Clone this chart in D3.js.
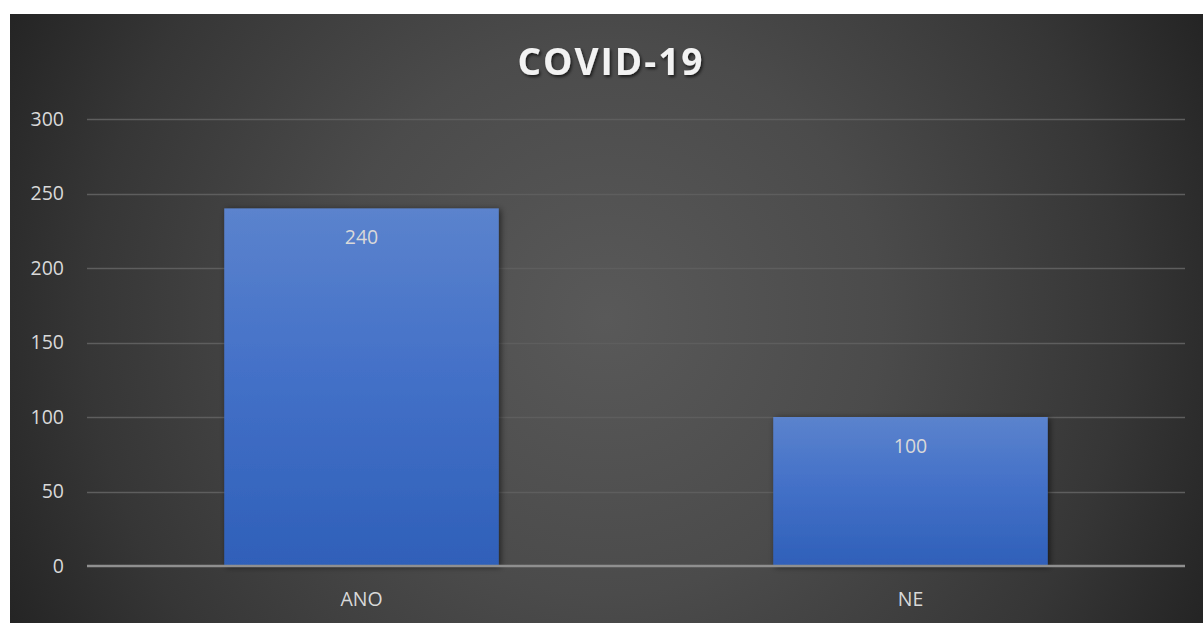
<!DOCTYPE html>
<html>
<head>
<meta charset="utf-8">
<script src="https://cdn.jsdelivr.net/npm/d3@7/dist/d3.min.js"></script>
<style>
  html, body { margin: 0; padding: 0; background: #ffffff; }
  svg { display: block; }
</style>
</head>
<body>
<script>
// Chart data
const categories = ["ANO", "NE"];
const values = [240, 100];
const yTicks = [0, 50, 100, 150, 200, 250, 300];
const chartTitle = "COVID-19";

const W = 1203, H = 623;
const panel = { x: 10, y: 14, w: 1193, h: 609 };
const plot = { left: 87, right: 1185, top: 119, bottom: 566 };
const labelFont = "'Open Sans', 'Noto Sans', sans-serif";

const svg = d3.select("body").append("svg")
  .attr("width", W).attr("height", H);

const defs = svg.append("defs");

// Dark radial background
const bg = defs.append("radialGradient")
  .attr("id", "bgGrad")
  .attr("gradientUnits", "userSpaceOnUse")
  .attr("cx", 606).attr("cy", 318).attr("r", 690);
bg.append("stop").attr("offset", "0").attr("stop-color", "#595959");
bg.append("stop").attr("offset", "0.4").attr("stop-color", "#4b4b4b");
bg.append("stop").attr("offset", "0.75").attr("stop-color", "#363636");
bg.append("stop").attr("offset", "1").attr("stop-color", "#222222");

// Bar fill: lighter blue at top, deeper blue at base
const barGrad = defs.append("linearGradient")
  .attr("id", "barGrad").attr("x1", 0).attr("y1", 0).attr("x2", 0).attr("y2", 1);
barGrad.append("stop").attr("offset", "0").attr("stop-color", "#5b83cd");
barGrad.append("stop").attr("offset", "0.45").attr("stop-color", "#4471c8");
barGrad.append("stop").attr("offset", "1").attr("stop-color", "#2f60b9");

const shadow = defs.append("filter").attr("id", "barShadow")
  .attr("x", "-10%").attr("y", "-10%").attr("width", "130%").attr("height", "130%");
shadow.append("feDropShadow")
  .attr("dx", 2).attr("dy", 1).attr("stdDeviation", 3)
  .attr("flood-color", "#000").attr("flood-opacity", 0.55);

const titleShadow = defs.append("filter").attr("id", "titleShadow")
  .attr("x", "-10%").attr("y", "-30%").attr("width", "130%").attr("height", "170%");
titleShadow.append("feDropShadow")
  .attr("dx", 1.5).attr("dy", 2).attr("stdDeviation", 1.5)
  .attr("flood-color", "#000").attr("flood-opacity", 0.65);

svg.append("rect")
  .attr("x", panel.x).attr("y", panel.y)
  .attr("width", panel.w).attr("height", panel.h)
  .attr("fill", "url(#bgGrad)");

// Scales
const x = d3.scaleBand()
  .domain(categories)
  .range([plot.left, plot.right])
  .paddingInner(0.5).paddingOuter(0.25);

const y = d3.scaleLinear()
  .domain([0, 300])
  .range([plot.bottom, plot.top]);

// Gridlines
svg.append("g")
  .selectAll("line")
  .data(yTicks.filter(d => d !== 0))
  .join("line")
  .attr("x1", plot.left).attr("x2", plot.right)
  .attr("y1", d => Math.round(y(d)) + 0.5).attr("y2", d => Math.round(y(d)) + 0.5)
  .attr("stroke", "#5e5e5e").attr("stroke-width", 1.5);

// Y axis labels
const yAxis = d3.axisLeft(y).tickValues(yTicks).tickSize(0).tickPadding(0);
const gy = svg.append("g")
  .attr("transform", `translate(${plot.left - 23},0)`)
  .call(yAxis);
gy.select(".domain").remove();
gy.selectAll("text")
  .attr("fill", "#d9d9d9")
  .style("font-family", labelFont)
  .style("font-size", "19.5px");

// Bars
svg.append("g")
  .selectAll("rect")
  .data(values)
  .join("rect")
  .attr("x", (d, i) => x(categories[i]))
  .attr("y", d => y(d))
  .attr("width", x.bandwidth())
  .attr("height", d => y(0) - y(d))
  .attr("fill", "url(#barGrad)")
  .attr("filter", "url(#barShadow)");

// Value labels inside bar tops
svg.append("g")
  .selectAll("text")
  .data(values)
  .join("text")
  .attr("x", (d, i) => x(categories[i]) + x.bandwidth() / 2)
  .attr("y", d => y(d) + 36)
  .attr("text-anchor", "middle")
  .attr("fill", "#d9d9d9")
  .style("font-family", labelFont)
  .style("font-size", "19.5px")
  .text(d => d);

// X axis baseline and category labels
svg.append("line")
  .attr("x1", plot.left).attr("x2", plot.right)
  .attr("y1", y(0)).attr("y2", y(0))
  .attr("stroke", "#8f8f8f").attr("stroke-width", 2.5);

const xAxis = d3.axisBottom(x).tickSize(0).tickPadding(0);
const gx = svg.append("g")
  .attr("transform", `translate(0,${plot.bottom + 40})`)
  .call(xAxis);
gx.select(".domain").remove();
gx.selectAll("text")
  .attr("dy", 0)
  .attr("fill", "#d9d9d9")
  .style("font-family", labelFont)
  .style("font-size", "19.5px");

// Title
svg.append("text")
  .attr("x", 611).attr("y", 75)
  .attr("text-anchor", "middle")
  .attr("fill", "#f2f2f2")
  .attr("filter", "url(#titleShadow)")
  .style("font-family", labelFont)
  .style("font-weight", "700")
  .style("font-size", "37px")
  .style("letter-spacing", "2px")
  .text(chartTitle);
</script>
</body>
</html>
